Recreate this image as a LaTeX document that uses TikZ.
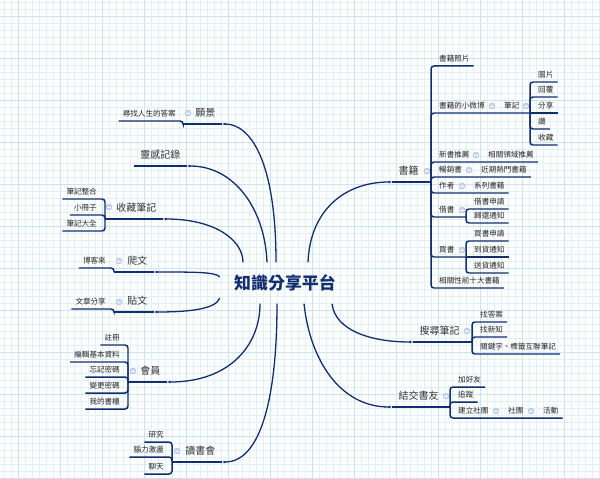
\documentclass[tikz,border=0pt]{standalone}
\usepackage{fontspec}
\newfontfamily\cjk{Noto Sans CJK TC}
\usetikzlibrary{arrows.meta}
\definecolor{mapline}{HTML}{112E6E}
\definecolor{maptext}{HTML}{333333}
\definecolor{rootblue}{HTML}{15306E}
\definecolor{gridminor}{HTML}{E2F0F7}
\definecolor{gridmajor}{HTML}{C9E4F2}
\definecolor{foldfill}{HTML}{C9D9F2}
\definecolor{folddraw}{HTML}{A3BCE6}

\begin{document}
\begin{tikzpicture}[
  x=1bp, y=-1bp,
  root/.style={font=\cjk\bfseries\fontsize{17}{20}\selectfont, text=rootblue, minimum width=130bp, minimum height=41bp, inner sep=0pt},
  topic/.style={font=\cjk\fontsize{10}{12}\selectfont, text=maptext, inner xsep=6.5bp, inner ysep=0pt, text height=8pt, text depth=7.2pt},
  leaf/.style={font=\cjk\fontsize{7.6}{9}\selectfont, text=black!85, inner xsep=4bp, inner ysep=0pt, text height=6pt, text depth=4.3pt},
  fold/.style={circle, fill=foldfill, draw=folddraw, line width=0.4pt, minimum size=6bp, inner sep=0pt,
    path picture={\draw[white, line width=0.9pt] ([xshift=-1.6bp]path picture bounding box.center) -- ([xshift=1.6bp]path picture bounding box.center);}},
  curve/.style={draw=mapline, line width=1.3pt, -{Latex[length=3.5pt,width=3pt]}},
  uline/.style={draw=mapline, line width=1.8pt},
  sub/.style={draw=mapline, line width=1.5pt, rounded corners=3bp}
]
\useasboundingbox (0,0) rectangle (600,479);

% Background grid
\fill[white!96!gridminor] (0,0) rectangle (600,479);
\draw[gridminor, line width=0.5pt] \foreach \gx in {4,11,...,599} {(\gx,0) -- (\gx,479)} \foreach \gy in {2,9,...,478} {(0,\gy) -- (600,\gy)};
\draw[gridmajor, line width=0.6pt] \foreach \gx in {18,60,...,599} {(\gx,0) -- (\gx,479)} \foreach \gy in {16,58,...,478} {(0,\gy) -- (600,\gy)};

% Centre
\node[root] (root) at (285,283) {知識分享平台};

% Left: vision
\node[topic, anchor=south east] (vision) at (222,124) {願景};
\node[fold] (fvision) at (188,113) {};
\coordinate (jvision) at (183,124);
\node[leaf, anchor=south east] (answer) at (180,121) {尋找人生的答案};
\draw[curve] ([xshift=-9bp]root.north) .. controls (276,160) and (250,124) .. (vision.south east);
\draw[uline] (vision.south east) -- (jvision);
\draw[sub] (jvision) |- (answer.south west);

% Left: ideas
\node[topic, anchor=south east] (idea) at (187,166) {靈感記錄};
\draw[curve] ([xshift=-18bp]root.north) .. controls (265,210) and (235,166) .. (idea.south east);
\draw[uline] (idea.south east) -- (idea.south west);

% Left: collection
\node[topic, anchor=south east] (collect) at (163,219) {收藏筆記};
\node[fold] (fcollect) at (109,207) {};
\coordinate (jcollect) at (105,219);
\node[leaf, anchor=south east] (merge) at (101,199) {筆記整合};
\node[leaf, anchor=south east] (booklet) at (101,215) {小冊子};
\node[leaf, anchor=south east] (allnotes) at (101,231) {筆記大全};
\draw[curve] ([xshift=-42bp]root.north) .. controls (243,240) and (215,219) .. (collect.south east);
\draw[uline] (collect.south east) -- (jcollect);
\draw[sub] (jcollect) |- (merge.south west);
\draw[sub] (jcollect) |- (booklet.south west);
\draw[sub] (jcollect) |- (allnotes.south west);

% Left: crawl
\node[topic, anchor=south east] (crawl) at (154,272) {爬文};
\node[fold] (fcrawl) at (119,261) {};
\coordinate (jcrawl) at (114,272);
\node[leaf, anchor=south east] (bookscom) at (110,268) {博客來};
\draw[curve] ([yshift=6bp]root.west) .. controls (216,272) and (195,272) .. (crawl.south east);
\draw[uline] (crawl.south east) -- (jcrawl);
\draw[sub] (jcrawl) |- (bookscom.south west);

% Left: post
\node[topic, anchor=south east] (post) at (154,312) {貼文};
\node[fold] (fpost) at (119,302) {};
\coordinate (jpost) at (114,312);
\node[leaf, anchor=south east] (article) at (110,309) {文章分享};
\draw[curve] ([yshift=-15bp]root.west) .. controls (216,309) and (190,312) .. (post.south east);
\draw[uline] (post.south east) -- (jpost);
\draw[sub] (jpost) |- (article.south west);

% Left: members
\node[topic, anchor=south east] (member) at (167,382) {會員};
\node[fold] (fmember) at (133,371) {};
\coordinate (jmember) at (128,382);
\node[leaf, anchor=south east] (register) at (124,345) {註冊};
\node[leaf, anchor=south east] (profile) at (124,362) {編輯基本資料};
\node[leaf, anchor=south east] (forgot) at (124,377) {忘記密碼};
\node[leaf, anchor=south east] (change) at (124,393) {變更密碼};
\node[leaf, anchor=south east] (shelf) at (124,409) {我的書櫃};
\draw[curve] ([xshift=-25bp]root.south) .. controls (260,345) and (230,382) .. (member.south east);
\draw[uline] (member.south east) -- (jmember);
\draw[sub] (jmember) |- (register.south west);
\draw[sub] (jmember) |- (profile.south west);
\draw[sub] (jmember) |- (forgot.south west);
\draw[sub] (jmember) |- (change.south west);
\draw[sub] (jmember) |- (shelf.south west);

% Left: reading club
\node[topic, anchor=south east] (club) at (222,462) {讀書會};
\node[fold] (fclub) at (177,451) {};
\coordinate (jclub) at (172,462);
\node[leaf, anchor=south east] (study) at (168,442) {研究};
\node[leaf, anchor=south east] (storm) at (168,457) {腦力激盪};
\node[leaf, anchor=south east] (chat) at (168,474) {聊天};
\draw[curve] ([xshift=-8bp]root.south) .. controls (277,400) and (260,462) .. (club.south east);
\draw[uline] (club.south east) -- (jclub);
\draw[sub] (jclub) |- (study.south west);
\draw[sub] (jclub) |- (storm.south west);
\draw[sub] (jclub) |- (chat.south west);

% Right: books
\node[topic, anchor=south west] (books) at (392,182) {書籍};
\node[fold] (fbooks) at (427,171) {};
\coordinate (jbooks) at (431,182);
\node[leaf, anchor=south west] (photo) at (435,66) {書籍照片};
\node[leaf, anchor=south west] (weibo) at (435,113) {書籍的小微博};
\node[fold] (fweibo) at (492,106) {};
\node[leaf, anchor=south west] (note) at (500,113) {筆記};
\node[fold] (fnote) at (526,106) {};
\coordinate (jnote) at (530,113);
\node[leaf, anchor=south west] (pic) at (534,82) {圖片};
\node[leaf, anchor=south west] (reply) at (534,97) {回覆};
\node[leaf, anchor=south west] (shr) at (534,113) {分享};
\node[leaf, anchor=south west] (like) at (534,129) {讚};
\node[leaf, anchor=south west] (fav) at (534,145) {收藏};
\node[leaf, anchor=south west] (newbook) at (435,162) {新書推薦};
\node[fold] (fnewbook) at (476,155) {};
\node[leaf, anchor=south west] (related) at (484,162) {相關領域推薦};
\node[leaf, anchor=south west] (best) at (435,177) {暢銷書};
\node[fold] (fbest) at (469,170) {};
\node[leaf, anchor=south west] (hot) at (477,177) {近期熱門書籍};
\node[leaf, anchor=south west] (author) at (435,193) {作者};
\node[fold] (fauthor) at (462,186) {};
\node[leaf, anchor=south west] (series) at (470,193) {系列書籍};
\node[leaf, anchor=south west] (borrow) at (435,217) {借書};
\node[fold] (fborrow) at (462,210) {};
\coordinate (jborrow) at (466,217);
\node[leaf, anchor=south west] (bapply) at (470,209) {借書申請};
\node[leaf, anchor=south west] (breturn) at (470,223) {歸還通知};
\node[leaf, anchor=south west] (buy) at (435,257) {買書};
\node[fold] (fbuy) at (462,250) {};
\coordinate (jbuy) at (466,257);
\node[leaf, anchor=south west] (order) at (470,241) {買書申請};
\node[leaf, anchor=south west] (arrive) at (470,257) {到貨通知};
\node[leaf, anchor=south west] (ship) at (470,273) {送貨通知};
\node[leaf, anchor=south west] (top10) at (435,288) {相關性前十大書籍};
\draw[curve] ([xshift=23bp]root.north) .. controls (310,210) and (345,182) .. (books.south west);
\draw[uline] (books.south west) -- (jbooks);
\draw[sub] (jbooks) |- (photo.south east);
\draw[sub] (jbooks) |- (jnote);
\draw[sub] (jbooks) |- (related.south east);
\draw[sub] (jbooks) |- (hot.south east);
\draw[sub] (jbooks) |- (series.south east);
\draw[sub] (jbooks) |- (jborrow);
\draw[sub] (jbooks) |- (jbuy);
\draw[sub] (jbooks) |- (top10.south east);
\draw[sub] (jnote) |- (pic.south east);
\draw[sub] (jnote) |- (reply.south east);
\draw[sub] (jnote) -- (shr.south east);
\draw[sub] (jnote) |- (like.south east);
\draw[sub] (jnote) |- (fav.south east);
\draw[sub] (jborrow) |- (bapply.south east);
\draw[sub] (jborrow) |- (breturn.south east);
\draw[sub] (jbuy) |- (order.south east);
\draw[sub] (jbuy) -- (arrive.south east);
\draw[sub] (jbuy) |- (ship.south east);

% Right: search
\node[topic, anchor=south west] (search) at (413,342) {搜尋筆記};
\node[fold] (fsearch) at (467,331) {};
\coordinate (jsearch) at (472,342);
\node[leaf, anchor=south west] (answers) at (476,322) {找答案};
\node[leaf, anchor=south west] (news) at (476,337) {找新知};
\node[leaf, anchor=south west] (tags) at (476,354) {關鍵字、標籤互聯筆記};
\draw[curve] ([xshift=47bp]root.south) .. controls (335,330) and (370,342) .. (search.south west);
\draw[uline] (search.south west) -- (jsearch);
\draw[sub] (jsearch) |- (answers.south east);
\draw[sub] (jsearch) |- (news.south east);
\draw[sub] (jsearch) |- (tags.south east);

% Right: friends
\node[topic, anchor=south west] (friend) at (392,407) {結交書友};
\node[fold] (ffriend) at (446,396) {};
\coordinate (jfriend) at (450,407);
\node[leaf, anchor=south west] (addf) at (454,387) {加好友};
\node[leaf, anchor=south west] (follow) at (454,402) {追蹤};
\node[leaf, anchor=south west] (found) at (454,418) {建立社團};
\node[fold] (ffound) at (496,411) {};
\node[leaf, anchor=south west] (group) at (504,418) {社團};
\node[fold] (fgroup) at (531,411) {};
\node[leaf, anchor=south west] (event) at (539,418) {活動};
\draw[curve] ([xshift=19bp]root.south) .. controls (310,360) and (340,407) .. (friend.south west);
\draw[uline] (friend.south west) -- (jfriend);
\draw[sub] (jfriend) |- (addf.south east);
\draw[sub] (jfriend) |- (follow.south east);
\draw[sub] (jfriend) |- (event.south east);
\end{tikzpicture}
\end{document}
